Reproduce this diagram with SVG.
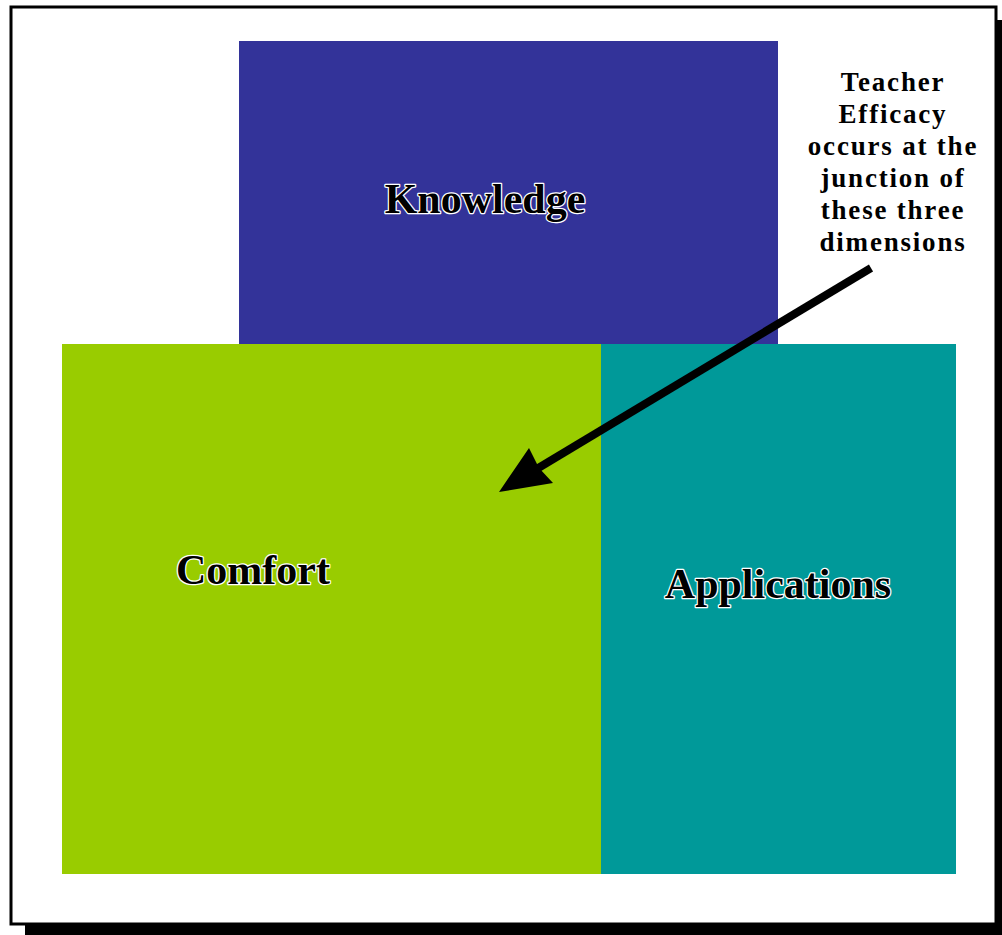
<svg xmlns="http://www.w3.org/2000/svg" width="1002" height="935" viewBox="0 0 1002 935">
  <style>
    .label { font-family: "Liberation Serif", "Times New Roman", serif; font-weight: bold; font-size: 42px; text-anchor: middle; }
    .halo { fill: #ffffff; stroke: #ffffff; stroke-width: 2.5; stroke-linejoin: round; }
    .ink { fill: #000000; }
    .note { font-family: "Liberation Serif", "Times New Roman", serif; font-weight: bold; font-size: 27px; letter-spacing: 1.8px; text-anchor: middle; fill: #000000; }
  </style>

  <!-- page frame with drop shadow -->
  <rect x="25" y="20" width="977" height="915" fill="#000000"/>
  <rect x="11" y="7" width="985" height="917" fill="#ffffff" stroke="#000000" stroke-width="3"/>

  <g id="knowledge">
    <rect x="239" y="41" width="539" height="303" fill="#333399"/>
    <text class="label halo" x="485" y="213">Knowledge</text>
    <text class="label ink" x="485" y="213">Knowledge</text>
  </g>

  <g id="comfort">
    <rect x="62" y="344" width="539" height="530" fill="#99cc00"/>
    <text class="label halo" x="253" y="584">Comfort</text>
    <text class="label ink" x="253" y="584">Comfort</text>
  </g>

  <g id="applications">
    <rect x="601" y="344" width="355" height="530" fill="#009999"/>
    <text class="label halo" x="778" y="598">Applications</text>
    <text class="label ink" x="778" y="598">Applications</text>
  </g>

  <g id="note">
    <text class="note" x="893" y="91">Teacher</text>
    <text class="note" x="893" y="123">Efficacy</text>
    <text class="note" x="893" y="155">occurs at the</text>
    <text class="note" x="893" y="187">junction of</text>
    <text class="note" x="893" y="219">these three</text>
    <text class="note" x="893" y="251">dimensions</text>
  </g>

  <g id="connectors">
    <line x1="871" y1="268" x2="535" y2="470" stroke="#000000" stroke-width="8"/>
    <path d="M499,492 L529,448 L539,468 L553,483 Z" fill="#000000"/>
  </g>
</svg>
